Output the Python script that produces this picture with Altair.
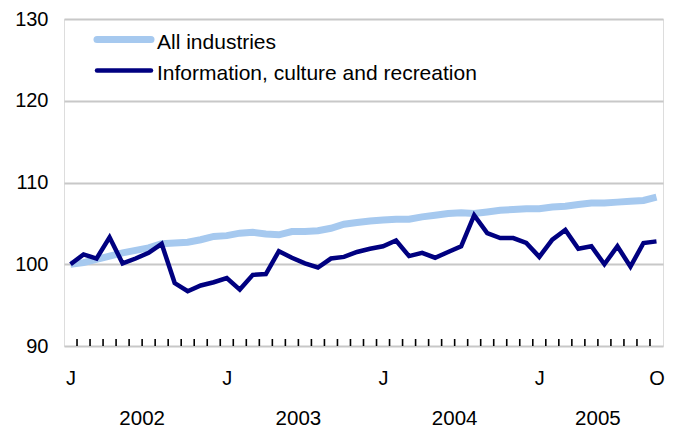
import altair as alt
import pandas as pd

months = ["Jan", "Feb", "Mar", "Apr", "May", "Jun", "Jul", "Aug", "Sep", "Oct", "Nov", "Dec"]
years = [2002, 2003, 2004, 2005]

all_industries = [
    100.0, 100.2, 100.6, 101.0, 101.4, 101.7, 102.0, 102.5, 102.6, 102.7, 103.0, 103.4,
    103.5, 103.8, 103.9, 103.7, 103.6, 104.0, 104.0, 104.1, 104.4, 104.9, 105.1, 105.3,
    105.4, 105.5, 105.5, 105.8, 106.0, 106.2, 106.3, 106.2, 106.4, 106.6, 106.7, 106.8,
    106.8, 107.0, 107.1, 107.3, 107.5, 107.5, 107.6, 107.7, 107.8, 108.2,
]
info_culture = [
    100.0, 101.2, 100.7, 103.3, 100.1, 100.7, 101.4, 102.5, 97.7, 96.7, 97.4, 97.8,
    98.3, 96.9, 98.7, 98.8, 101.6, 100.8, 100.1, 99.6, 100.7, 100.9, 101.5, 101.9,
    102.2, 102.9, 101.0, 101.4, 100.8, 101.5, 102.2, 106.0, 103.8, 103.2, 103.2, 102.6,
    100.9, 103.0, 104.2, 101.9, 102.2, 100.0, 102.2, 99.7, 102.6, 102.8,
]
series_names = ["All industries", "Information, culture and recreation"]
series_colors = ["#a6c9ef", "#000080"]
series_widths = [7, 4.5]

y_ticks = [90, 100, 110, 120, 130]
x_label_idx = [0, 12, 24, 36, 45]
x_label_text = ["J", "J", "J", "J", "O"]

n = len(all_industries)
labels = [f"{years[i // 12]}-{months[i % 12]}" for i in range(n)]

rows = []
for i in range(n):
    rows.append({"idx": i, "month": labels[i], "series": series_names[0], "value": all_industries[i]})
for i in range(n):
    rows.append({"idx": i, "month": labels[i], "series": series_names[1], "value": info_culture[i]})
df = pd.DataFrame(rows)

year_rows = []
for k, yr in enumerate(years):
    idxs = [i for i in range(n) if i // 12 == k]
    year_rows.append({"year": str(yr), "center": (idxs[0] + idxs[-1]) / 2})
ydf = pd.DataFrame(year_rows)

tdf = pd.DataFrame({"b": [i + 0.5 for i in range(n - 1)]})

FONT = "Liberation Sans"
x_scale = alt.Scale(domain=[-0.5, n - 0.5], nice=False, zero=False)
label_map = "{" + ",".join(f"'{i}':'{t}'" for i, t in zip(x_label_idx, x_label_text)) + "}"

lines = alt.Chart(df).mark_line(strokeJoin="miter").encode(
    x=alt.X("idx:Q", scale=x_scale,
            axis=alt.Axis(values=x_label_idx, labelExpr=f"{label_map}[datum.value + '']",
                          ticks=False, domain=False, grid=False, title=None,
                          labelFont=FONT, labelFontSize=20, labelColor="black",
                          labelPadding=22, labelBaseline="top")),
    y=alt.Y("value:Q", scale=alt.Scale(domain=[90, 130], nice=False, zero=False),
            axis=alt.Axis(values=y_ticks, ticks=False, domain=False, grid=True,
                          gridColor="#c8c8c8", gridWidth=2, title=None,
                          labelFont=FONT, labelFontSize=20, labelColor="black",
                          labelPadding=16)),
    color=alt.Color("series:N", scale=alt.Scale(domain=series_names, range=series_colors), legend=None),
    strokeWidth=alt.StrokeWidth("series:N", scale=alt.Scale(domain=series_names, range=series_widths), legend=None),
    order=alt.Order("idx:Q"),
)

ticks = alt.Chart(tdf).mark_rule(color="black", strokeWidth=1.6).encode(
    x=alt.X("b:Q", scale=x_scale),
    y=alt.value(327),
    y2=alt.value(320),
)

year_text = alt.Chart(ydf).mark_text(font=FONT, fontSize=20.5, color="black", baseline="middle").encode(
    x=alt.X("center:Q", scale=x_scale),
    y=alt.value(400),
    text="year:N",
)

legend_layers = []
for k, (name, col, w) in enumerate(zip(series_names, series_colors, series_widths)):
    ldf = pd.DataFrame({"series": [name]})
    sw = alt.Chart(ldf).mark_rule(color=col, strokeWidth=w, strokeCap="round").encode(
        x=alt.value(33), x2=alt.value(87), y=alt.value(20.5 + 31 * k)
    )
    tx = alt.Chart(ldf).mark_text(font=FONT, fontSize=21, color="black", align="left",
                                  baseline="middle").encode(
        x=alt.value(93), y=alt.value(23.5 + 31 * k), text="series:N"
    )
    legend_layers += [sw, tx]

chart = alt.layer(lines, ticks, year_text, *legend_layers).properties(
    width=599, height=327,
    autosize=alt.AutoSizeParams(type="none"),
    padding={"left": 56, "top": 11, "right": 7, "bottom": 88},
).configure_view(stroke="black", strokeWidth=2.5).configure(background="white")

chart.save("out.html", embed_options={"renderer": "svg", "actions": False})
